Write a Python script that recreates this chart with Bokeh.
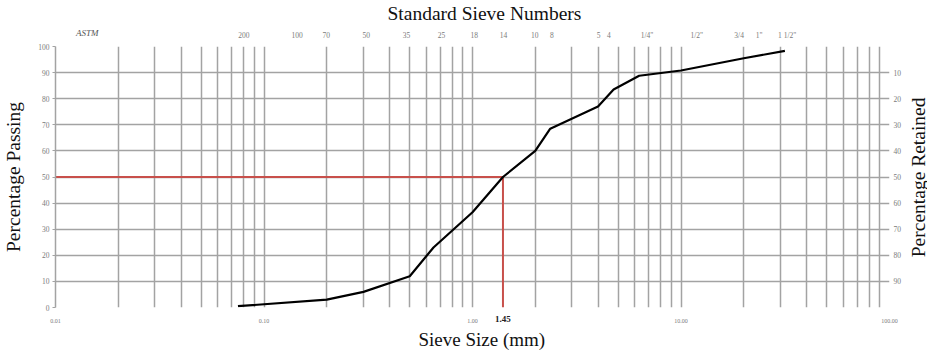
import math
from bokeh.plotting import figure
from bokeh.layouts import row
from bokeh.models import (LogAxis, LinearAxis, FixedTicker, CustomJSTickFormatter, Range1d, Title)
from bokeh.core.properties import value
from bokeh.embed import file_html
from bokeh.resources import INLINE

# ---- data ----
sieve_mm = [0.075, 0.2, 0.3, 0.5, 0.65, 1.0, 1.4, 2.0, 2.36, 4.0, 4.75, 6.3, 10.0, 20.0, 31.5]
passing = [0.5, 3.0, 6.0, 12.0, 23.0, 36.5, 50.0, 60.0, 68.5, 77.0, 83.5, 88.8, 90.8, 95.5, 98.3]

d50_pos = 1.4          # where the D50 marker sits on the curve
d50_text = "1.45"      # label printed under the axis

x_major = [0.01, 0.1, 1.0, 10.0, 100.0]
y_ticks = [0, 10, 20, 30, 40, 50, 60, 70, 80, 90, 100]
retained_ticks = [10, 20, 30, 40, 50, 60, 70, 80, 90]

top_positions = [0.080, 0.144, 0.199, 0.309, 0.482, 0.71, 1.02, 1.41, 1.99, 2.40,
                 4.03, 4.51, 6.87, 11.9, 19.0, 23.7, 32.3]
top_labels = ["200", "100", "70", "50", "35", "25", "18", "14", "10", "8",
              "5", "4", "1/4\"", "1/2\"", "3/4", "1\"", "1 1/2\""]
astm_pos = [0.0142]
astm_label = ["ASTM"]

FONT = "Liberation Serif"
GRID = "#a3a3a3"
TICKC = "#7a7a7a"
TITLEC = "#111111"

W, H = 927, 351
RIGHT_W = 21


def label_formatter(pos, labs):
    return CustomJSTickFormatter(args=dict(pos=pos, labs=labs), code="""
const i = pos.findIndex(t => Math.abs(Math.log10(t) - Math.log10(tick)) < 1e-6);
return i >= 0 ? labs[i] : '';
""")


def quiet(ax):
    ax.major_tick_line_color = None
    ax.minor_tick_line_color = None
    ax.major_tick_out = 0
    ax.major_tick_in = 0
    ax.minor_tick_out = 0
    ax.minor_tick_in = 0
    ax.axis_line_color = None


def big_title(text, offset, standoff, size="19px"):
    return Title(text=text, align="left", offset=offset, standoff=standoff,
                 text_font=FONT, text_font_size=size, text_font_style="normal",
                 text_color=TITLEC)


p = figure(width=W - RIGHT_W, height=H, x_axis_type="log",
           x_range=Range1d(0.01, 100), y_range=Range1d(0, 100),
           output_backend="svg", toolbar_location=None,
           min_border_left=55, min_border_right=17,
           min_border_top=45, min_border_bottom=44)
p.outline_line_color = None
p.background_fill_color = "white"

# ---- bottom: inner axis = mm scale, outer axis = bold D50 value ----
minor = [k * m for m in [0.01, 0.1, 1.0, 10.0] for k in range(2, 10)]
xt = FixedTicker(ticks=x_major, minor_ticks=minor)
bx = p.xaxis[0]
bx.ticker = xt
bx.formatter = CustomJSTickFormatter(code="return tick.toFixed(2);")
quiet(bx)
bx.major_label_text_font = FONT
bx.major_label_text_font_size = "6px"
bx.major_label_text_color = TICKC
bx.major_label_standoff = 11

bd = LogAxis(ticker=FixedTicker(ticks=[d50_pos]),
             formatter=label_formatter([d50_pos], [d50_text]))
quiet(bd)
bd.major_label_text_font = FONT
bd.major_label_text_font_size = "9px"
bd.major_label_text_font_style = "bold"
bd.major_label_text_color = "#222222"
bd.major_label_standoff = -10
p.add_layout(bd, "below")
p.add_layout(big_title("Sieve Size (mm)", 363, 3), "below")

# ---- left axis ----
ly = p.yaxis[0]
ly.ticker = FixedTicker(ticks=y_ticks)
ly.axis_label = "Percentage Passing"
ly.axis_label_text_font = FONT
ly.axis_label_text_font_size = "19.5px"
ly.axis_label_text_font_style = "normal"
ly.axis_label_text_color = TITLEC
ly.axis_label_standoff = 11
ly.major_label_text_font = FONT
ly.major_label_text_font_size = "7.5px"
ly.major_label_text_color = TICKC
ly.major_label_standoff = 3
ly.major_tick_out = 3
ly.major_tick_in = 0
ly.minor_tick_out = 0
ly.minor_tick_in = 0
ly.major_tick_line_color = GRID
ly.minor_tick_line_color = None
ly.axis_line_color = GRID
ly.axis_line_width = 1.5

# ---- right axis (retained) ----
ry = LinearAxis(ticker=FixedTicker(ticks=retained_ticks),
                formatter=CustomJSTickFormatter(code="return (100 - tick).toFixed(0);"))
quiet(ry)
ry.major_label_text_font = FONT
ry.major_label_text_font_size = "7.5px"
ry.major_label_text_color = TICKC
ry.major_label_standoff = 4
p.add_layout(ry, "right")

# ---- top: sieve numbers (inner), ASTM (outer), heading ----
tx = LogAxis(ticker=FixedTicker(ticks=top_positions),
             formatter=label_formatter(top_positions, top_labels))
quiet(tx)
tx.major_label_text_font = FONT
tx.major_label_text_font_size = "7.5px"
tx.major_label_text_color = TICKC
tx.major_label_standoff = 7
p.add_layout(tx, "above")

ta = LogAxis(ticker=FixedTicker(ticks=astm_pos), formatter=label_formatter(astm_pos, astm_label))
quiet(ta)
ta.major_label_text_font = FONT
ta.major_label_text_font_size = "9px"
ta.major_label_text_font_style = "italic"
ta.major_label_text_color = "#555555"
ta.major_label_standoff = -10
p.add_layout(ta, "above")

p.title = big_title("Standard Sieve Numbers", 332, 1, "19.5px")

# ---- grids ----
p.xgrid.ticker = xt
p.xgrid.grid_line_color = GRID
p.xgrid.grid_line_width = 1.5
p.xgrid.minor_grid_line_color = GRID
p.xgrid.minor_grid_line_width = 1.5
p.ygrid.ticker = FixedTicker(ticks=y_ticks[1:])
p.ygrid.grid_line_color = GRID
p.ygrid.grid_line_width = 1.5

# ---- D50 marker lines ----
p.line(x=[x_major[0], d50_pos], y=[50, 50], line_color="#c8504b", line_width=2)
p.line(x=[d50_pos, d50_pos], y=[0, 50], line_color="#c8504b", line_width=2)

# ---- grading curve ----
p.line(x=sieve_mm, y=passing, line_color="black", line_width=2.2)

# ---- right-hand title strip (reads bottom-to-top like the left one) ----
pr = figure(width=RIGHT_W, height=H, x_range=Range1d(0, RIGHT_W), y_range=Range1d(0, H),
            output_backend="svg", toolbar_location=None,
            x_axis_location=None, y_axis_location=None,
            min_border_left=0, min_border_right=0, min_border_top=0, min_border_bottom=0)
pr.outline_line_color = None
pr.grid.visible = False
pr.text(x=[RIGHT_W / 2 + 1], y=[H - 176], text=["Percentage Retained"], angle=math.pi / 2,
        text_align="center", text_baseline="middle", text_font=value(FONT),
        text_font_size="19.5px", text_color=TITLEC)

layout = row(p, pr, spacing=0)
open("out.html", "w").write(file_html(layout, INLINE))
